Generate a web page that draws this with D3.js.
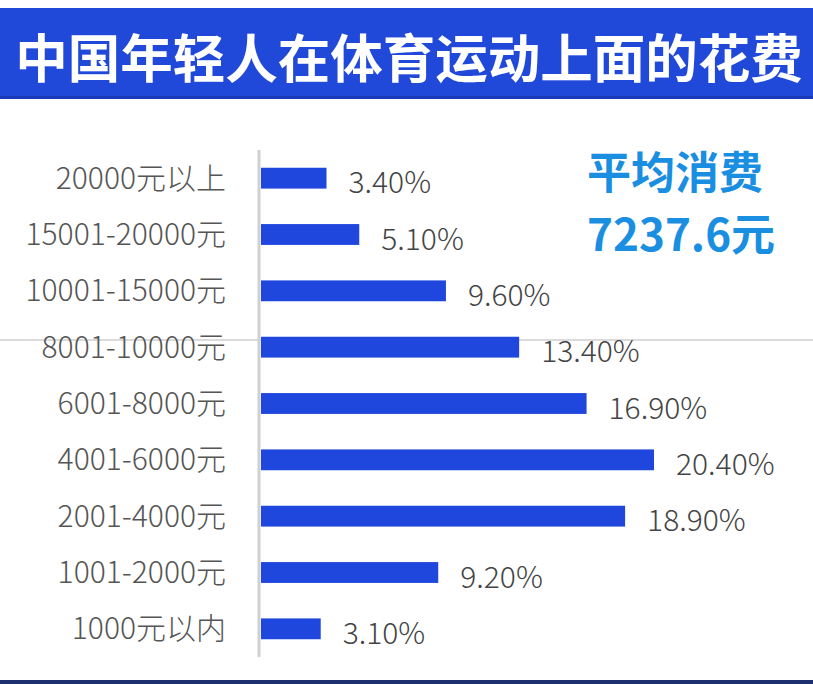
<!DOCTYPE html>
<html>
<head>
<meta charset="utf-8">
<script src="https://cdn.jsdelivr.net/npm/d3@7"></script>
<style>
  body { margin: 0; background: #fff; }
  svg { display: block; }
</style>
</head>
<body>
<div id="chart"></div>
<script>
// Data, top to bottom as shown
const categories = ["20000元以上", "15001-20000元", "10001-15000元", "8001-10000元",
  "6001-8000元", "4001-6000元", "2001-4000元", "1001-2000元", "1000元以内"];
const shares = [3.4, 5.1, 9.6, 13.4, 16.9, 20.4, 18.9, 9.2, 3.1];
const titleText = "中国年轻人在体育运动上面的花费";
const avgLabel = "平均消费";
const avgValue = "7237.6元";

const W = 813, H = 684;
const font = "'Noto Sans CJK SC', 'Noto Sans', sans-serif";

const svg = d3.select("#chart")
  .append("svg")
  .attr("width", W)
  .attr("height", H);

// Header band
svg.append("rect")
  .attr("x", 0).attr("y", 8)
  .attr("width", W).attr("height", 90)
  .attr("fill", "#2149d9");
svg.append("rect")
  .attr("x", 0).attr("y", 96)
  .attr("width", W).attr("height", 3)
  .attr("fill", "#1a3bb5");

svg.append("text")
  .attr("x", 409)
  .attr("y", 55)
  .attr("text-anchor", "middle")
  .attr("dominant-baseline", "central")
  .attr("font-family", font)
  .attr("font-weight", 700)
  .attr("font-size", 52.5)
  .attr("fill", "#fff")
  .text(titleText);

// Scales
const yScale = d3.scaleBand()
  .domain(categories)
  .range([150, 657])
  .paddingInner(0.63)
  .paddingOuter(0.315);

const xScale = d3.scaleLinear()
  .domain([0, 20.4])
  .range([261, 654]);

// faint guide line across the page
svg.append("line")
  .attr("x1", 0).attr("x2", W)
  .attr("y1", 340).attr("y2", 340)
  .attr("stroke", "#cfcfcf")
  .attr("stroke-width", 1.5);

// Category axis
const yAxis = d3.axisLeft(yScale).tickSize(0).tickPadding(33);
const gy = svg.append("g")
  .attr("transform", "translate(259,0)")
  .call(yAxis);
gy.select(".domain").remove();
gy.selectAll("text")
  .attr("font-family", font)
  .attr("font-weight", 300)
  .attr("font-size", 30)
  .attr("fill", "#555")
  .attr("dy", "0.35em");

svg.append("line")
  .attr("x1", 259).attr("x2", 259)
  .attr("y1", 150).attr("y2", 657)
  .attr("stroke", "#d0d0d0")
  .attr("stroke-width", 3);

// Bars
svg.selectAll(".bar")
  .data(shares)
  .enter()
  .append("rect")
  .attr("class", "bar")
  .attr("x", xScale(0))
  .attr("y", (d, i) => yScale(categories[i]))
  .attr("width", d => xScale(d) - xScale(0))
  .attr("height", yScale.bandwidth())
  .attr("fill", "#1f46dd");

// Value labels
svg.selectAll(".val")
  .data(shares)
  .enter()
  .append("text")
  .attr("class", "val")
  .attr("x", d => xScale(d) + 22)
  .attr("y", (d, i) => yScale(categories[i]) + yScale.bandwidth() / 2 + 2)
  .attr("dominant-baseline", "central")
  .attr("font-family", font)
  .attr("font-weight", 300)
  .attr("font-size", 30)
  .attr("fill", "#444")
  .text(d => d.toFixed(2) + "%");

// Average annotation
svg.append("text")
  .attr("x", 587).attr("y", 170)
  .attr("dominant-baseline", "central")
  .attr("font-family", font)
  .attr("font-weight", 700)
  .attr("font-size", 44)
  .attr("fill", "#1a8ee0")
  .text(avgLabel);
svg.append("text")
  .attr("x", 587).attr("y", 232)
  .attr("dominant-baseline", "central")
  .attr("font-family", font)
  .attr("font-weight", 700)
  .attr("font-size", 44)
  .attr("fill", "#1a8ee0")
  .text(avgValue);

// Bottom rule
svg.append("rect")
  .attr("x", 0).attr("y", 680)
  .attr("width", W).attr("height", 4)
  .attr("fill", "#1d2f6e");
</script>
</body>
</html>
